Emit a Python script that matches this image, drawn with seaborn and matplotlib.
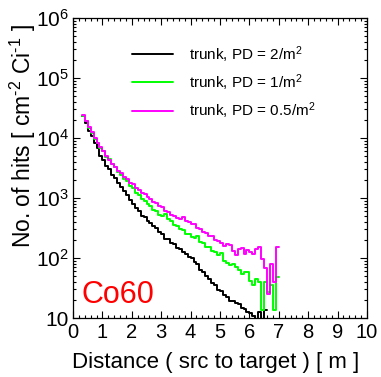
import numpy as np
import pandas as pd
import matplotlib
matplotlib.use("Agg")
import matplotlib.pyplot as plt
import seaborn as sns
from matplotlib.ticker import MultipleLocator, LogLocator, FuncFormatter, NullFormatter

# hits per bin (0.1 m bins starting at 0.3 m)
bin_start = 0.3
bin_width = 0.1

hits_pd2 = [
    23000, 17600, 13100, 10600, 8200, 6700, 5000, 4250, 3400, 3000,
    2450, 2180, 1790, 1530, 1300, 1120, 920, 800, 680, 610,
    500, 480, 410, 385, 335, 315, 270, 255, 210, 205,
    175, 170, 148, 140, 126, 118, 102, 99, 86, 78,
    64, 59, 50, 45, 38, 36, 29, 28, 24, 22.5,
    19.5, 19, 17.5, 16.8, 14.8, 14.3, 12.6, 11.9, 10.8, 9.4,
    12.8, 9.7, 13.4,
]
hits_pd1 = [
    23400, 18900, 14600, 12200, 9700, 8200, 6800, 6000, 4900, 4450,
    3650, 3300, 2700, 2450, 2100, 1900, 1580, 1440, 1200, 1120,
    960, 890, 780, 725, 630, 600, 530, 505, 540, 450,
    415, 355, 338, 300, 295, 255, 256, 228, 218, 232,
    186, 178, 150, 152, 131, 126, 111, 122, 90, 83,
    77, 78, 70, 63, 55, 59, 58, 42, 35, 44,
    40, 13.5, 40, 27, 35, 13.5, 49,
]
hits_pd05 = [
    24000, 19200, 15000, 12500, 9900, 8400, 7000, 6100, 4950, 4350,
    3680, 3300, 2850, 2620, 2200, 2050, 1790, 1700, 1450, 1380,
    1230, 1180, 1020, 980, 870, 830, 740, 700, 615, 590,
    525, 510, 460, 455, 485, 410, 405, 375, 362, 318,
    308, 270, 262, 236, 232, 200, 190, 175, 160, 168,
    163, 130, 113, 142, 146, 118, 137, 124, 116, 140,
    150, 98, 68, 25, 80, 40, 155,
]

series = [
    (r"trunk, PD = 2/m$^2$", hits_pd2, "#000000"),
    (r"trunk, PD = 1/m$^2$", hits_pd1, "#00ff00"),
    (r"trunk, PD = 0.5/m$^2$", hits_pd05, "#ff00ff"),
]

sns.set_theme(style="ticks")
plt.rcParams["font.family"] = ["Liberation Sans", "DejaVu Sans"]
plt.rcParams["mathtext.fontset"] = "custom"
plt.rcParams["mathtext.rm"] = "Liberation Sans"
plt.rcParams["mathtext.it"] = "Liberation Sans"
plt.rcParams["mathtext.sf"] = "Liberation Sans"
plt.rcParams["mathtext.default"] = "regular"
plt.rcParams["text.color"] = "black"
plt.rcParams["axes.labelcolor"] = "black"
plt.rcParams["xtick.color"] = "black"
plt.rcParams["ytick.color"] = "black"

fig = plt.figure(figsize=(3.81, 3.77), dpi=100)
ax = fig.add_axes([73 / 381, 1 - 318 / 377, 294 / 381, 300 / 377])

for label, hits, color in series:
    n = len(hits)
    edges = [round(bin_start + bin_width * i, 2) for i in range(n + 1)]
    centers = [e + bin_width / 2 for e in edges[:-1]]
    df = pd.DataFrame({"distance": centers, "hits": hits})
    sns.histplot(
        data=df, x="distance", weights="hits", bins=edges,
        element="step", fill=False, color=color, linewidth=1.4,
        label=label, ax=ax,
    )

ax.set_yscale("log")
ax.set_xlim(0, 10)
ax.set_ylim(10, 1e6)
ax.set_xlabel("")
ax.set_ylabel("")

ax.xaxis.set_major_locator(MultipleLocator(1))
ax.xaxis.set_minor_locator(MultipleLocator(0.2))
ax.yaxis.set_major_locator(LogLocator(base=10, numticks=10))
ax.yaxis.set_minor_locator(LogLocator(base=10, subs=np.arange(2, 10), numticks=20))
ax.yaxis.set_minor_formatter(NullFormatter())
ax.yaxis.set_major_formatter(FuncFormatter(
    lambda v, p: "10" if abs(v - 10) < 1e-6 else r"$10^{%d}$" % round(np.log10(v))))

ax.tick_params(which="both", direction="in", top=True, right=True, colors="black",
               width=0.8)
ax.tick_params(axis="x", labelsize=14.5, pad=3.5)
ax.tick_params(axis="y", labelsize=15, pad=3)
ax.tick_params(which="major", length=5)
ax.tick_params(which="minor", length=2.5)
for s in ax.spines.values():
    s.set_color("black")
    s.set_linewidth(0.9)

fig.text(0.567, 1 - 368 / 377, "Distance ( src to target ) [ m ]",
         ha="center", va="baseline", fontsize=16)
fig.text(23 / 381, 1 - 24 / 377, r"No. of hits [ cm$^{\text{-}2}$ Ci$^{\text{-}1}$ ]",
         rotation=90, ha="center", va="top", fontsize=16.5)

ax.text(0.03, 0.05, "Co60", transform=ax.transAxes, color="red",
        fontsize=22, ha="left", va="baseline")

ax.legend(loc="upper left", bbox_to_anchor=(132 / 381, 1 - 44 / 377),
          bbox_transform=fig.transFigure, frameon=False, fontsize=11,
          handlelength=2.7, handletextpad=1.0, labelspacing=0.5,
          borderpad=0, borderaxespad=0)

fig.savefig("out.png", dpi=100)
